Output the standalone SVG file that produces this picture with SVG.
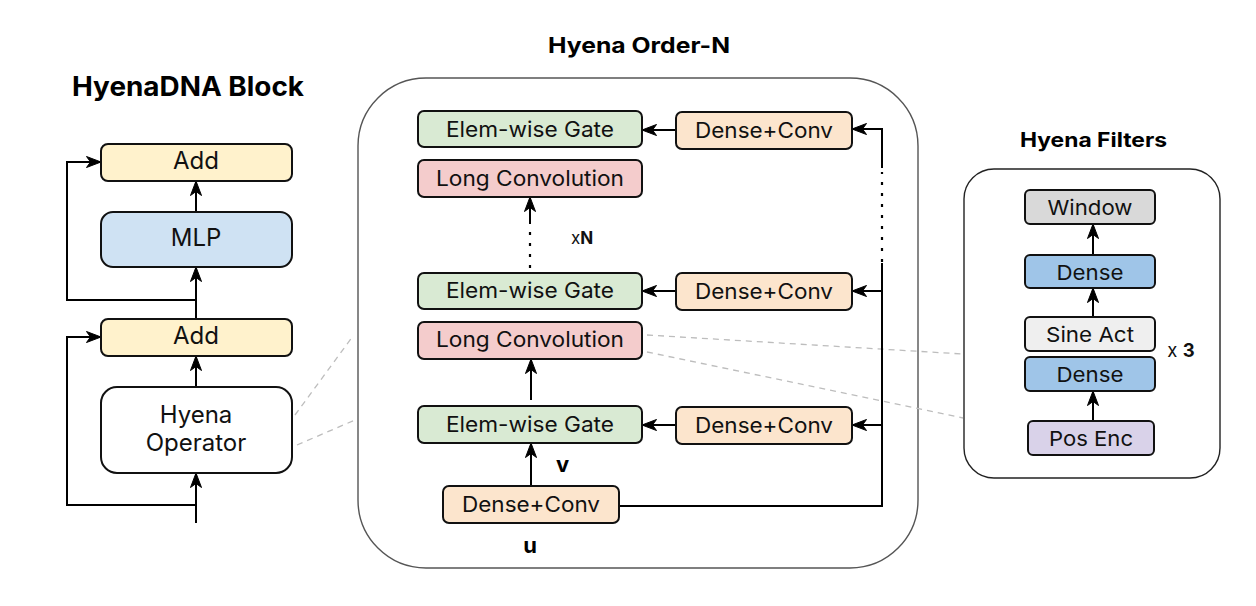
<svg xmlns="http://www.w3.org/2000/svg" width="1256" height="606" viewBox="0 0 1256 606">
<style>
.n{stroke:#111;stroke-width:2}
.t{font-family:Inter,"Noto Sans","DejaVu Sans",sans-serif;fill:#111;text-anchor:middle}
.tl{font-size:24px}
.tm{font-size:21.5px}
.tf{font-size:20.5px}
.h{font-family:Inter,"Liberation Sans",Arial,sans-serif;font-weight:bold;fill:#000}
.c{fill:none;stroke:#000;stroke-width:2}
.dot{fill:none;stroke:#000;stroke-width:2.2;stroke-dasharray:3 8}
.pj{fill:none;stroke:#bdbdbd;stroke-width:1.3;stroke-dasharray:6 5}
</style>
<defs>
<marker id="ar" viewBox="-1 -1 17 14" refX="15" refY="6" markerWidth="17" markerHeight="14" markerUnits="userSpaceOnUse" orient="auto">
<path d="M0.5,0.5 L15,6 L0.5,11.5 L4.5,6 Z" fill="#000" stroke="#000" stroke-width="1" stroke-linejoin="round"/>
</marker>
</defs>
<rect width="1256" height="606" fill="#fff"/>

<!-- titles -->
<text class="h" x="72" y="96" font-size="26.5" textLength="232" lengthAdjust="spacingAndGlyphs">HyenaDNA Block</text>
<text class="h" x="548" y="53" font-size="21.5" textLength="182" lengthAdjust="spacingAndGlyphs">Hyena Order-N</text>
<text class="h" x="1020" y="147" font-size="20" textLength="147" lengthAdjust="spacingAndGlyphs">Hyena Filters</text>

<!-- containers -->
<rect id="order-n" x="358" y="78" width="560" height="490" rx="68" fill="none" stroke="#555" stroke-width="1.4"/>
<rect id="filters" x="964" y="169" width="256" height="309" rx="30" fill="none" stroke="#222" stroke-width="1.4"/>

<!-- projection lines -->
<g id="projections">
<path class="pj" d="M295,415 L353,336"/>
<path class="pj" d="M297,445 L355,420"/>
<path class="pj" d="M647,335 L963,354"/>
<path class="pj" d="M647,352 L963,418"/>
</g>

<!-- connectors -->
<g id="connectors">
<path class="c" d="M196,523 V473" marker-end="url(#ar)"/>
<path class="c" d="M196,505 H67 V337 H101" marker-end="url(#ar)"/>
<path class="c" d="M196,387 V356" marker-end="url(#ar)"/>
<path class="c" d="M196,319 V267" marker-end="url(#ar)"/>
<path class="c" d="M196,300 H67 V162 H101" marker-end="url(#ar)"/>
<path class="c" d="M196,212 V181" marker-end="url(#ar)"/>

<path class="c" d="M531,486 V443" marker-end="url(#ar)"/>
<path class="c" d="M531,400 V359" marker-end="url(#ar)"/>
<path class="dot" d="M530,268 V228"/>
<path class="c" d="M530,224 V197" marker-end="url(#ar)"/>

<path class="c" d="M676,130 H642" marker-end="url(#ar)"/>
<path class="c" d="M676,291 H642" marker-end="url(#ar)"/>
<path class="c" d="M676,425 H642" marker-end="url(#ar)"/>

<path class="c" d="M619,506 H882 V263"/>
<path class="dot" d="M882,262 V172"/>
<path class="c" d="M882,168 V129 H852" marker-end="url(#ar)"/>
<path class="c" d="M882,291 H852" marker-end="url(#ar)"/>
<path class="c" d="M882,425 H852" marker-end="url(#ar)"/>

<path class="c" d="M1093,421 V391" marker-end="url(#ar)"/>
<path class="c" d="M1093,317 V288" marker-end="url(#ar)"/>
<path class="c" d="M1093,255 V224" marker-end="url(#ar)"/>
</g>

<!-- HyenaDNA block nodes -->
<g id="add-top"><rect class="n" x="101" y="144" width="191" height="37" rx="7" fill="#fff2cc"/><text class="t tl" x="196" y="169">Add</text></g>
<g id="mlp"><rect class="n" x="101" y="212" width="191" height="55" rx="12" fill="#cfe2f3"/><text class="t tl" x="196" y="246">MLP</text></g>
<g id="add-bottom"><rect class="n" x="101" y="319" width="191" height="37" rx="7" fill="#fff2cc"/><text class="t tl" x="196" y="344">Add</text></g>
<g id="hyena-operator"><rect class="n" x="101" y="387" width="191" height="86" rx="16" fill="#fff"/><text class="t tl" x="196" y="423">Hyena</text><text class="t tl" x="196" y="451">Operator</text></g>

<!-- Hyena order-N nodes -->
<g id="gate-1"><rect class="n" x="418" y="111" width="224" height="36" rx="6" fill="#d9ead3"/><text class="t tm" x="530" y="137" textLength="168" lengthAdjust="spacingAndGlyphs">Elem-wise Gate</text></g>
<g id="dc-1"><rect class="n" x="676" y="112" width="176" height="37" rx="6" fill="#fce5cd"/><text class="t tm" x="764" y="138" textLength="138" lengthAdjust="spacingAndGlyphs">Dense+Conv</text></g>
<g id="lc-1"><rect class="n" x="418" y="160" width="224" height="37" rx="6" fill="#f4cccc"/><text class="t tm" x="530" y="186" textLength="188" lengthAdjust="spacingAndGlyphs">Long Convolution</text></g>
<g id="gate-2"><rect class="n" x="418" y="273" width="224" height="36" rx="6" fill="#d9ead3"/><text class="t tm" x="530" y="298" textLength="168" lengthAdjust="spacingAndGlyphs">Elem-wise Gate</text></g>
<g id="dc-2"><rect class="n" x="676" y="273" width="176" height="37" rx="6" fill="#fce5cd"/><text class="t tm" x="764" y="299" textLength="138" lengthAdjust="spacingAndGlyphs">Dense+Conv</text></g>
<g id="lc-2"><rect class="n" x="418" y="322" width="224" height="37" rx="6" fill="#f4cccc"/><text class="t tm" x="530" y="347" textLength="188" lengthAdjust="spacingAndGlyphs">Long Convolution</text></g>
<g id="gate-3"><rect class="n" x="418" y="406" width="224" height="37" rx="6" fill="#d9ead3"/><text class="t tm" x="530" y="432" textLength="168" lengthAdjust="spacingAndGlyphs">Elem-wise Gate</text></g>
<g id="dc-3"><rect class="n" x="676" y="407" width="176" height="37" rx="6" fill="#fce5cd"/><text class="t tm" x="764" y="433" textLength="138" lengthAdjust="spacingAndGlyphs">Dense+Conv</text></g>
<g id="dc-0"><rect class="n" x="443" y="486" width="176" height="37" rx="6" fill="#fce5cd"/><text class="t tm" x="531" y="512" textLength="138" lengthAdjust="spacingAndGlyphs">Dense+Conv</text></g>
<g id="labels">
<text class="t" x="582" y="244" font-size="17"><tspan>x</tspan><tspan font-weight="bold">N</tspan></text>
<text class="h" x="556" y="472" font-size="22">v</text>
<text class="h" x="530" y="553" font-size="22" text-anchor="middle">u</text>
<text class="t" x="1181" y="357" font-size="18.5"><tspan>x </tspan><tspan font-weight="bold">3</tspan></text>
</g>

<!-- Hyena filters nodes -->
<g id="window"><rect class="n" x="1025" y="190" width="130" height="34" rx="5" fill="#d9d9d9"/><text class="t tf" x="1090" y="215" textLength="85" lengthAdjust="spacingAndGlyphs">Window</text></g>
<g id="dense-1"><rect class="n" x="1025" y="255" width="130" height="33" rx="5" fill="#9fc5e8"/><text class="t tf" x="1090" y="280" textLength="67" lengthAdjust="spacingAndGlyphs">Dense</text></g>
<g id="sine-act"><rect class="n" x="1025" y="317" width="130" height="34" rx="5" fill="#efefef"/><text class="t tf" x="1090" y="342" textLength="88" lengthAdjust="spacingAndGlyphs">Sine Act</text></g>
<g id="dense-2"><rect class="n" x="1025" y="357" width="130" height="34" rx="5" fill="#9fc5e8"/><text class="t tf" x="1090" y="382" textLength="67" lengthAdjust="spacingAndGlyphs">Dense</text></g>
<g id="pos-enc"><rect class="n" x="1028" y="421" width="126" height="34" rx="5" fill="#d9d2e9"/><text class="t tf" x="1091" y="446" textLength="84" lengthAdjust="spacingAndGlyphs">Pos Enc</text></g>
</svg>
